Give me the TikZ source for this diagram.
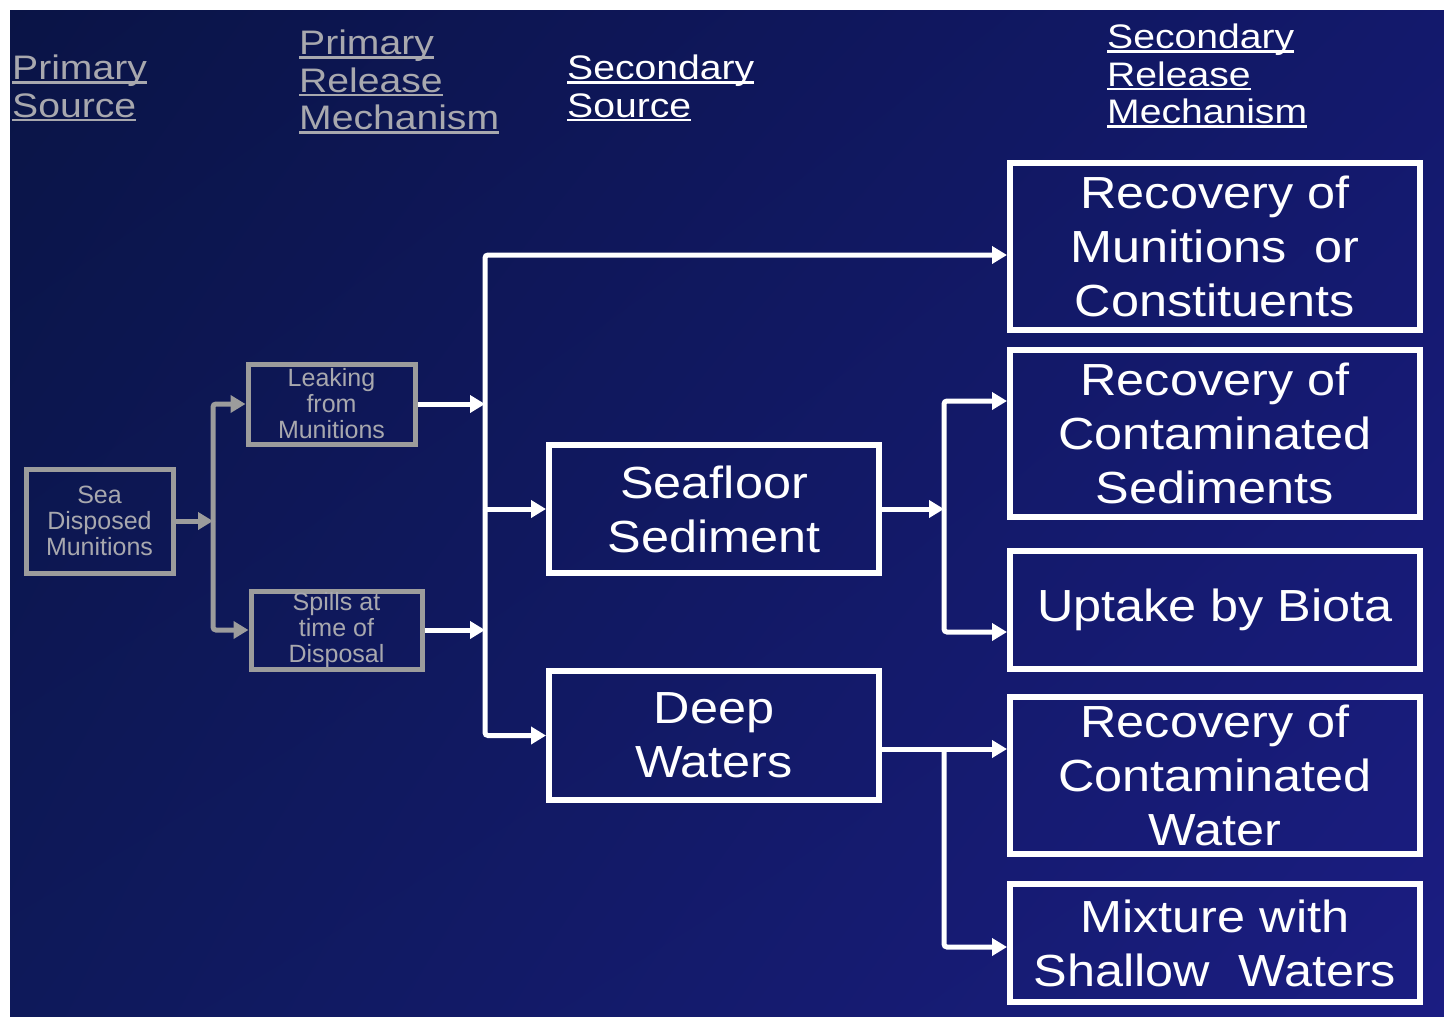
\documentclass[tikz,border=0pt]{standalone}
\usepackage{fontspec}
\setmainfont{Liberation Sans}
\newfontfamily\stretchf[FakeStretch=1.15]{Liberation Sans}
\newfontfamily\boxf[FakeStretch=1.12]{Liberation Sans}
\usetikzlibrary{arrows.meta,shadings}
\definecolor{bgUL}{HTML}{0A1446}
\definecolor{bgUR}{HTML}{13196C}
\definecolor{bgLL}{HTML}{0E195A}
\definecolor{bgLR}{HTML}{1B1D82}
\definecolor{grayline}{HTML}{9C9C9C}
\definecolor{graytext}{HTML}{A8A8AE}
\def\hul#1{\setbox0\hbox{#1}\rlap{\rule[-4pt]{\wd0}{2.5pt}}\box0}
\tikzset{
  header/.style={anchor=north west, align=left, inner sep=0pt,
    font=\stretchf\fontsize{34}{37.5}\selectfont},
  graybox/.style={draw=grayline, line width=5pt, inner sep=0pt, align=center,
    text=graytext, font=\fontsize{25}{26}\selectfont},
  whitebox/.style={draw=white, line width=6pt, inner sep=0pt, align=center,
    text=white, font=\boxf\fontsize{45}{54}\selectfont},
  gconn/.style={draw=grayline, line width=5pt, rounded corners=3pt,
    -{Triangle[length=15pt,width=17pt]}},
  wconn/.style={draw=white, line width=5pt, rounded corners=3pt,
    -{Triangle[length=15pt,width=17pt]}},
}
\begin{document}
\begin{tikzpicture}[x=1pt,y=-1pt]
\useasboundingbox (0,0) rectangle (1444,1017);
\fill[white] (0,0) rectangle (1444,1017);
\shade[upper left=bgUL, upper right=bgUR, lower left=bgLL, lower right=bgLR]
  (10,10) rectangle (1444,1017);

% headers
\node[header, text=graytext] (h1) at (12,55) {\hul{Primary}\\\hul{Source}};
\node[header, text=graytext] (h2) at (299,30) {\hul{Primary}\\\hul{Release}\\\hul{Mechanism}};
\node[header, text=white] (h3) at (567,55) {\hul{Secondary}\\\hul{Source}};
\node[header, text=white] (h4) at (1107,24) {\hul{Secondary}\\\hul{Release}\\\hul{Mechanism}};

% gray boxes
\node[graybox, minimum width=147pt, minimum height=104pt] (sea) at (99.5,521) {Sea\\Disposed\\Munitions};
\node[graybox, minimum width=167pt, minimum height=80pt] (leak) at (331.5,404) {Leaking\\from\\Munitions};
\node[graybox, minimum width=171pt, minimum height=78pt] (spill) at (336.5,630) {Spills at\\time of\\Disposal};

% white boxes
\node[whitebox, minimum width=330pt, minimum height=128pt] (seafloor) at (714,509) {Seafloor\\Sediment};
\node[whitebox, minimum width=330pt, minimum height=129pt] (deep) at (714,735.5) {Deep\\Waters};
\node[whitebox, minimum width=410pt, minimum height=167pt] (rmc) at (1215,246.5) {Recovery of\\Munitions~~or\\Constituents};
\node[whitebox, minimum width=410pt, minimum height=167pt] (rcs) at (1215,433.5) {Recovery of\\Contaminated\\Sediments};
\node[whitebox, minimum width=410pt, minimum height=118pt] (biota) at (1215,610) {Uptake by Biota};
\node[whitebox, minimum width=410pt, minimum height=157pt] (rcw) at (1215,775.5) {Recovery of\\Contaminated\\Water};
\node[whitebox, minimum width=410pt, minimum height=118pt] (mix) at (1215,943) {Mixture with\\Shallow~~Waters};

% gray connectors
\coordinate (j1) at (213,521);
\draw[gconn] (sea.east) -- (j1);
\draw[gconn] (j1) |- (leak.west);
\draw[gconn] (j1) |- (spill.west);

% white connectors
\coordinate (b1) at (485,509);
\draw[wconn] (leak.east) -- (leak.east -| b1);
\draw[wconn] (spill.east) -- (spill.east -| b1);
\draw[wconn] (b1) -- (seafloor.west);
\draw[wconn] (b1) |- ([yshift=-8.5pt]rmc.west);
\draw[wconn] (b1) |- (deep.west);

\coordinate (b2) at (944,509);
\draw[wconn] (seafloor.east) -- (b2);
\draw[wconn] (b2) |- ([yshift=32.5pt]rcs.west);
\draw[wconn] (b2) |- ([yshift=-22pt]biota.west);

\coordinate (b3) at (944,749);
\draw[wconn] ([yshift=-13.5pt]deep.east) -- ([yshift=-13.5pt]deep.east -| rcw.west);
\draw[wconn] (b3) |- ([yshift=-4pt]mix.west);
\end{tikzpicture}
\end{document}
